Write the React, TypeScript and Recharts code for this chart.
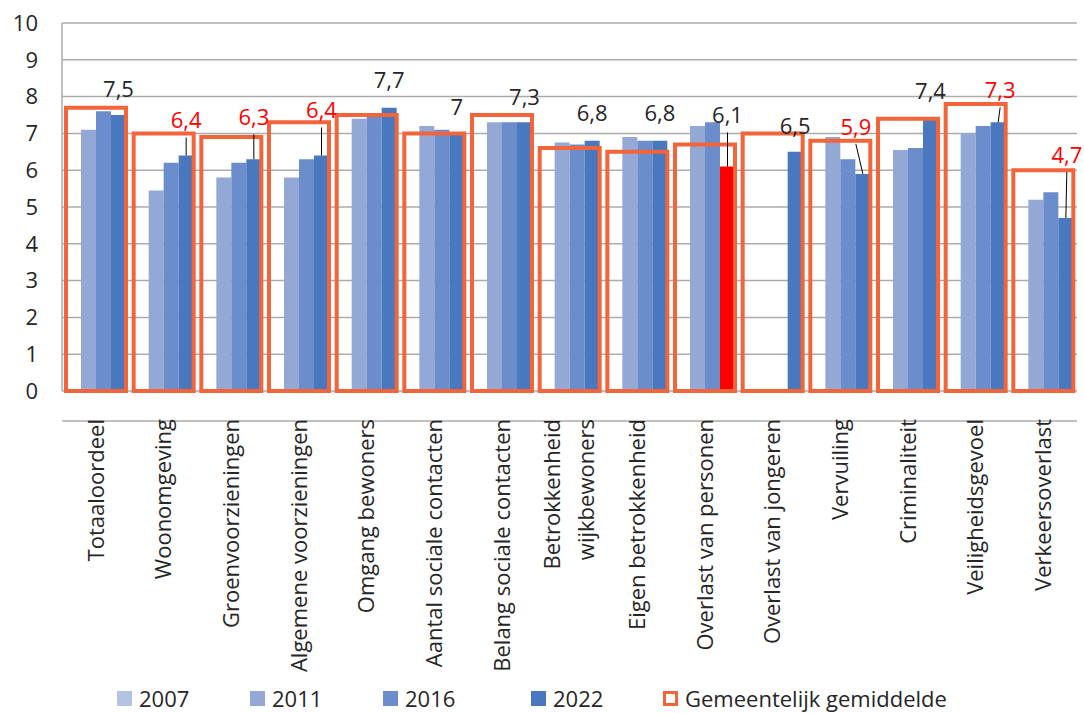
import { Bar, BarChart, CartesianGrid, Cell, LabelList, Legend, XAxis, YAxis } from 'recharts';

const categories = [
  'Totaaloordeel',
  'Woonomgeving',
  'Groenvoorzieningen',
  'Algemene voorzieningen',
  'Omgang bewoners',
  'Aantal sociale contacten',
  'Belang sociale contacten',
  'Betrokkenheid\nwijkbewoners',
  'Eigen betrokkenheid',
  'Overlast van personen',
  'Overlast van jongeren',
  'Vervuiling',
  'Criminaliteit',
  'Veiligheidsgevoel',
  'Verkeersoverlast',
];

const values2007 = [null, null, null, null, null, null, null, null, null, null, null, null, null, null, null];
const values2011 = [7.1, 5.45, 5.8, 5.8, 7.4, 7.2, 7.3, 6.75, 6.9, 7.2, null, 6.9, 6.55, 7.0, 5.2];
const values2016 = [7.6, 6.2, 6.2, 6.3, 7.5, 7.1, 7.3, 6.7, 6.8, 7.3, null, 6.3, 6.6, 7.2, 5.4];
const values2022 = [7.5, 6.4, 6.3, 6.4, 7.7, 7.0, 7.3, 6.8, 6.8, 6.1, 6.5, 5.9, 7.4, 7.3, 4.7];
const gemiddelde = [7.7, 7.0, 6.9, 7.3, 7.5, 7.0, 7.5, 6.6, 6.5, 6.7, 7.0, 6.8, 7.4, 7.8, 6.0];

// labels in red = below the municipal average
const redLabels = [false, true, true, true, false, false, false, false, false, false, false, true, false, true, true];
const highlighted = 'Overlast van personen';

// how far the 2022 label sits above its bar (px), and horizontal nudge
const labelLift = [26, 35, 42, 45, 27, 26, 25, 27, 27, 51, 26, 47, 27, 32, 63];
const labelShift = [0, 0, 0, 0, 0, 0, 0, 0, 0, 0, 0, -7, 0, 2, 1];

const FONT = '"Open Sans", sans-serif';
const TEXT = '#262626';
const GRID = '#ababab';
const ORANGE = '#f2643a';
const RED = '#ff0000';
const C2007 = '#b4c3e4';
const C2011 = '#94a8d6';
const C2016 = '#6b8dcb';
const C2022 = '#4a78be';

const data = categories.map((name, i) => ({
  name,
  y2007: values2007[i],
  y2011: values2011[i],
  y2016: values2016[i],
  y2022: values2022[i],
  avg: gemiddelde[i],
}));

function CategoryTick({ x, y, payload }: any) {
  const lines = String(payload.value).split('\n');
  return (
    <g transform={`translate(${x},${y - 2}) rotate(-90)`}>
      {lines.map((line, i) => (
        <text
          key={line}
          x={0}
          y={(i - (lines.length - 1) / 2) * 34}
          dy="0.35em"
          textAnchor="end"
          fill={TEXT}
          fontSize={22}
          fontFamily={FONT}
        >
          {line}
        </text>
      ))}
    </g>
  );
}

function ValueLabel(props: any) {
  const box = props.viewBox ?? props;
  const { index, value } = props;
  if (value == null) return null;
  const cx = box.x + box.width / 2;
  const top = box.y;
  const lx = cx + labelShift[index];
  const ly = top - labelLift[index];
  return (
    <g>
      {labelLift[index] > 30 && <line x1={lx} y1={ly + 17} x2={cx} y2={top} stroke="#000" strokeWidth={1} />}
      <text x={lx} y={ly} dy="0.35em" textAnchor="middle" fill={redLabels[index] ? RED : TEXT} fontSize={22} fontFamily={FONT}>
        {String(value).replace('.', ',')}
      </text>
    </g>
  );
}

const legendItems = [
  { label: '2007', color: C2007, left: 117 },
  { label: '2011', color: C2011, left: 250 },
  { label: '2016', color: C2016, left: 383 },
  { label: '2022', color: C2022, left: 531 },
  { label: 'Gemeentelijk gemiddelde', color: ORANGE, left: 663, outline: true },
];

function LegendContent() {
  return (
    <div style={{ position: 'relative', width: 1084, height: 30, fontFamily: FONT, fontSize: 22, color: TEXT }}>
      {legendItems.map((item) => (
        <div
          key={item.label}
          style={{ position: 'absolute', left: item.left, top: 0, height: 30, display: 'flex', alignItems: 'center', whiteSpace: 'nowrap' }}
        >
          <span
            style={{
              display: 'inline-block',
              boxSizing: 'border-box',
              width: 15,
              height: 15,
              marginRight: 7,
              background: item.outline ? '#fff' : item.color,
              border: item.outline ? `3px solid ${item.color}` : 'none',
            }}
          />
          <span>{item.label}</span>
        </div>
      ))}
    </div>
  );
}

export default function App() {
  return (
    <div style={{ position: 'absolute', left: 0, top: 0, width: 1084, height: 713, background: '#fff' }}>
      <BarChart
        width={1084}
        height={713}
        data={data}
        margin={{ top: 23, right: 7, left: 0, bottom: 0 }}
        barCategoryGap={4}
        barGap={0}
      >
        <CartesianGrid vertical={false} stroke={GRID} strokeWidth={1.5} />
        <XAxis
          xAxisId="main"
          dataKey="name"
          interval={0}
          height={292}
          tickLine={false}
          tickSize={0}
          tickMargin={0}
          axisLine={{ stroke: GRID, strokeWidth: 1.5 }}
          tick={<CategoryTick />}
        />
        <XAxis xAxisId="avg" dataKey="name" hide />
        <YAxis
          width={62}
          domain={[0, 10]}
          ticks={[0, 1, 2, 3, 4, 5, 6, 7, 8, 9, 10]}
          tickLine={false}
          tickSize={0}
          tickMargin={24}
          axisLine={{ stroke: GRID, strokeWidth: 1.5 }}
          tick={{ fill: TEXT, fontSize: 22, fontFamily: FONT }}
        />
        <Legend verticalAlign="bottom" height={30} content={<LegendContent />} wrapperStyle={{ left: 0, bottom: 0, width: 1084, height: 30 }} />
        <Bar xAxisId="main" dataKey="y2007" name="2007" fill={C2007} isAnimationActive={false} />
        <Bar xAxisId="main" dataKey="y2011" name="2011" fill={C2011} isAnimationActive={false} />
        <Bar xAxisId="main" dataKey="y2016" name="2016" fill={C2016} isAnimationActive={false} />
        <Bar xAxisId="main" dataKey="y2022" name="2022" fill={C2022} isAnimationActive={false}>
          {data.map((row) => (
            <Cell key={row.name} fill={row.name === highlighted ? RED : C2022} />
          ))}
          <LabelList dataKey="y2022" content={<ValueLabel />} />
        </Bar>
        <Bar
          xAxisId="avg"
          dataKey="avg"
          name="Gemeentelijk gemiddelde"
          fill="none"
          stroke={ORANGE}
          strokeWidth={4}
          isAnimationActive={false}
        />
      </BarChart>
    </div>
  );
}
